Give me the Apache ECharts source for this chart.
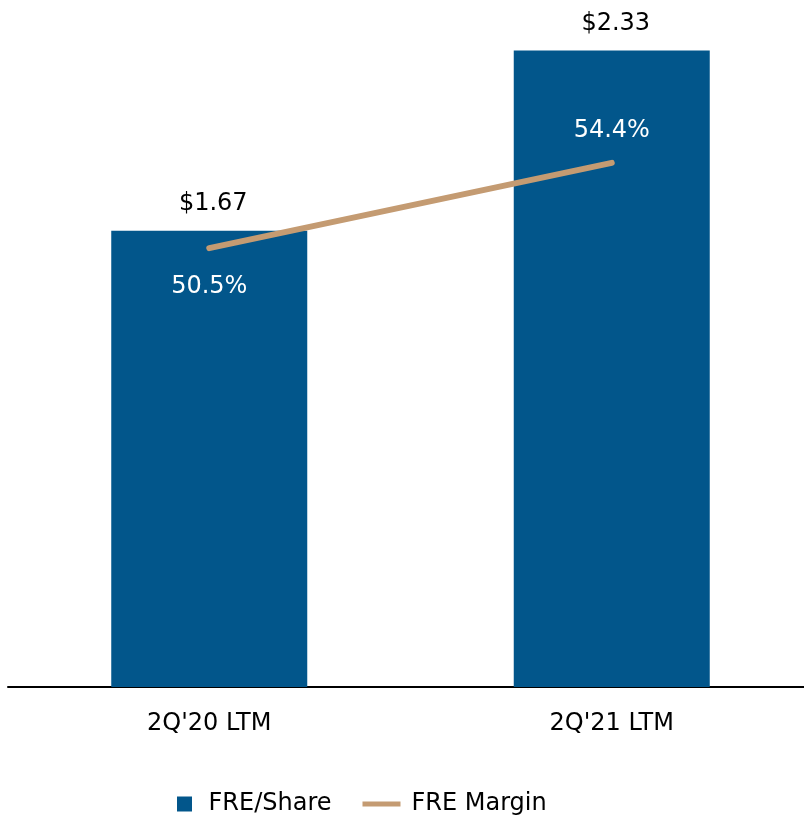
<!DOCTYPE html>
<html>
<head>
<meta charset="utf-8">
<script src="https://cdn.jsdelivr.net/npm/echarts@6/dist/echarts.min.js"></script>
<style>
  html, body { margin: 0; padding: 0; background: #fff; }
  #chart { width: 804px; height: 815px; }
</style>
</head>
<body>
<div id="chart"></div>
<script>
const categories = ['2Q\'20 LTM', '2Q\'21 LTM']
const freShare = [1.67, 2.33]
const freMargin = [50.5, 54.4]

const textFont = 'DejaVu Sans'

const chart = echarts.init(document.getElementById('chart'))

chart.setOption({
  animation: false,
  textStyle: { fontFamily: textFont },
  grid: {
    left: 8,
    right: -9,
    top: 45,
    bottom: 128,
    containLabel: false,
    outerBoundsMode: 'none'
  },
  legend: {
    data: [
      { name: 'FRE/Share', icon: 'path://M0,0 L15,0 L15,15 L0,15 Z' },
      {
        name: 'FRE Margin',
        icon: 'path://M0,0 L37,0 L37,5 L0,5 Z',
        textStyle: { padding: [0, 0, 0, 6] }
      }
    ],
    left: 172,
    bottom: -6,
    itemGap: 31,
    itemWidth: 38,
    itemHeight: 15,
    textStyle: { fontFamily: textFont, fontSize: 24, color: '#000' }
  },
  xAxis: {
    type: 'category',
    data: categories,
    axisTick: { show: false },
    axisLine: { lineStyle: { color: '#000', width: 2 } },
    axisLabel: {
      color: '#000',
      fontSize: 24,
      fontFamily: textFont,
      margin: 25
    }
  },
  yAxis: [{
    type: 'value',
    min: 0,
    max: 2.35,
    show: false,
    splitLine: { show: false }
  }, {
    type: 'value',
    min: 30.4,
    max: 59.8,
    show: false,
    splitLine: { show: false }
  }],
  series: [{
    name: 'FRE/Share',
    type: 'bar',
    data: freShare,
    barWidth: 196,
    itemStyle: { color: '#02568B' },
    label: {
      show: true,
      position: 'top',
      distance: 15,
      offset: [4, 0],
      color: '#000',
      fontSize: 24,
      fontFamily: textFont,
      formatter: (p) => '$' + p.value.toFixed(2)
    }
  }, {
    name: 'FRE Margin',
    type: 'line',
    yAxisIndex: 1,
    data: freMargin.map((v, i) => ({
      value: v,
      label: i === 0
        ? { position: 'bottom', distance: 26 }
        : { position: 'top', distance: 19 }
    })),
    symbol: 'circle',
    symbolSize: 2,
    lineStyle: { color: '#C49B72', width: 6, cap: 'round' },
    itemStyle: { color: '#C49B72' },
    label: {
      show: true,
      color: '#fff',
      fontSize: 24,
      fontFamily: textFont,
      formatter: (p) => p.value.toFixed(1) + '%'
    }
  }]
})
</script>
</body>
</html>
